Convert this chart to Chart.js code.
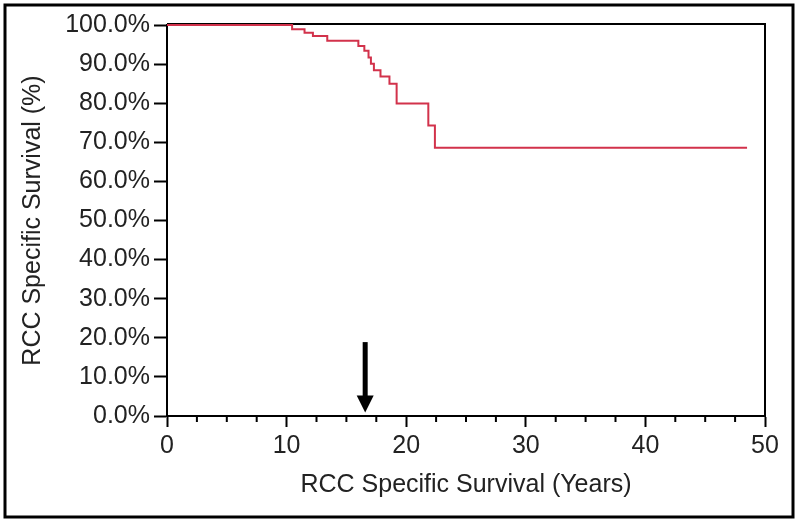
<!DOCTYPE html>
<html>
<head>
<meta charset="utf-8">
<title>RCC Specific Survival</title>
<script src="https://cdn.jsdelivr.net/npm/chart.js@4/dist/chart.umd.min.js"></script>
<style>
  html, body { margin:0; padding:0; background:#fff; }
  canvas { display:block; }
</style>
</head>
<body>
<canvas id="km" width="800" height="523"></canvas>
<script>
// Data
const eventYears = [0, 10.46, 11.5, 12.2, 13.4, 16.0, 16.5, 16.85, 17.05, 17.3, 17.85, 18.6, 19.2, 21.85, 22.4, 48.5];
const survivalPct = [100, 98.9, 98.0, 97.2, 96.0, 94.6, 93.4, 91.7, 90.1, 88.4, 86.8, 85.0, 79.9, 74.3, 68.6, 68.6];
const xTicksMajor = [0, 10, 20, 30, 40, 50];
const arrowYear = 16.57;
const arrowFromPct = 18.9;
const arrowToPct = 0.9;

const FONT = "'Liberation Sans', Arial, sans-serif";
const TXT = "#222";

// frame, minor ticks, arrow, outer border
const extras = {
  id: "extras",
  beforeDatasetsDraw(chart){
    const {ctx, chartArea:a} = chart;
    ctx.save();
    ctx.strokeStyle = "#000";
    ctx.lineWidth = 2;
    // top + right frame lines (under the curve)
    ctx.beginPath();
    ctx.moveTo(a.left, a.top - 1); ctx.lineTo(a.right, a.top - 1); ctx.lineTo(a.right, a.bottom);
    ctx.stroke();
    ctx.restore();
  },
  afterDraw(chart){
    const {ctx, chartArea:a, scales:{x, y}} = chart;
    ctx.save();
    ctx.strokeStyle = "#000";
    ctx.lineWidth = 2;
    // minor x ticks (every 2.5 years)
    ctx.beginPath();
    x.ticks.forEach(t=>{
      if(t.value % 10 === 0) return;
      const px = x.getPixelForValue(t.value);
      ctx.moveTo(px, a.bottom); ctx.lineTo(px, a.bottom + 6);
    });
    ctx.stroke();
    // arrow
    const ax = x.getPixelForValue(arrowYear);
    const top = y.getPixelForValue(arrowFromPct);
    const tip = y.getPixelForValue(arrowToPct);
    const headLen = 17, headHalf = 8.5;
    ctx.fillStyle = "#000";
    ctx.fillRect(ax - 2.5, top, 5, tip - top - headLen + 1);
    ctx.beginPath();
    ctx.moveTo(ax - headHalf, tip - headLen);
    ctx.lineTo(ax + headHalf, tip - headLen);
    ctx.lineTo(ax, tip);
    ctx.closePath();
    ctx.fill();
    // outer border
    ctx.lineWidth = 3;
    ctx.strokeRect(5, 5, 788, 512);
    ctx.restore();
  }
};

new Chart(document.getElementById("km"), {
  type: "line",
  data: {
    datasets: [{
      data: eventYears.map((t,i)=>({x:t, y:survivalPct[i]})),
      stepped: "before",
      borderColor: "#d2324b",
      borderWidth: 2,
      pointRadius: 0,
      fill: false,
      clip: false
    }]
  },
  options: {
    responsive: false,
    animation: false,
    layout: { padding: { top: 25, right: 35, left: 0, bottom: 0 } },
    plugins: { legend: { display: false }, tooltip: { enabled: false } },
    scales: {
      x: {
        type: "linear", min: 0, max: 50,
        afterFit: s => { s.height = 107; },
        border: { display: true, color: "#000", width: 2 },
        grid: {
          drawOnChartArea: false, tickLength: 11, tickWidth: 2,
          tickColor: c => (c.tick && c.tick.value % 10 === 0) ? "#000" : "rgba(0,0,0,0)"
        },
        ticks: {
          stepSize: 2.5, autoSkip: false, maxRotation: 0, padding: 4,
          color: TXT, font: { family: FONT, size: 25 },
          callback: v => xTicksMajor.includes(v) ? String(v) : ""
        },
        title: {
          display: true, text: "RCC Specific Survival (Years)", color: TXT,
          font: { family: FONT, size: 25 }, padding: { top: 0, bottom: 23 }
        }
      },
      y: {
        min: 0, max: 100,
        afterFit: s => { s.width = 167; },
        border: { display: true, color: "#000", width: 2 },
        grid: { drawOnChartArea: false, tickLength: 13, tickWidth: 2, tickColor: "#000" },
        ticks: {
          stepSize: 10, padding: 4, color: TXT, font: { family: FONT, size: 25 },
          callback: v => v.toFixed(1) + "%"
        },
        title: {
          display: true, text: "RCC Specific Survival (%)", color: TXT,
          font: { family: FONT, size: 25 }, padding: { top: 18, bottom: 0 }
        }
      }
    }
  },
  plugins: [extras]
});
</script>
</body>
</html>
